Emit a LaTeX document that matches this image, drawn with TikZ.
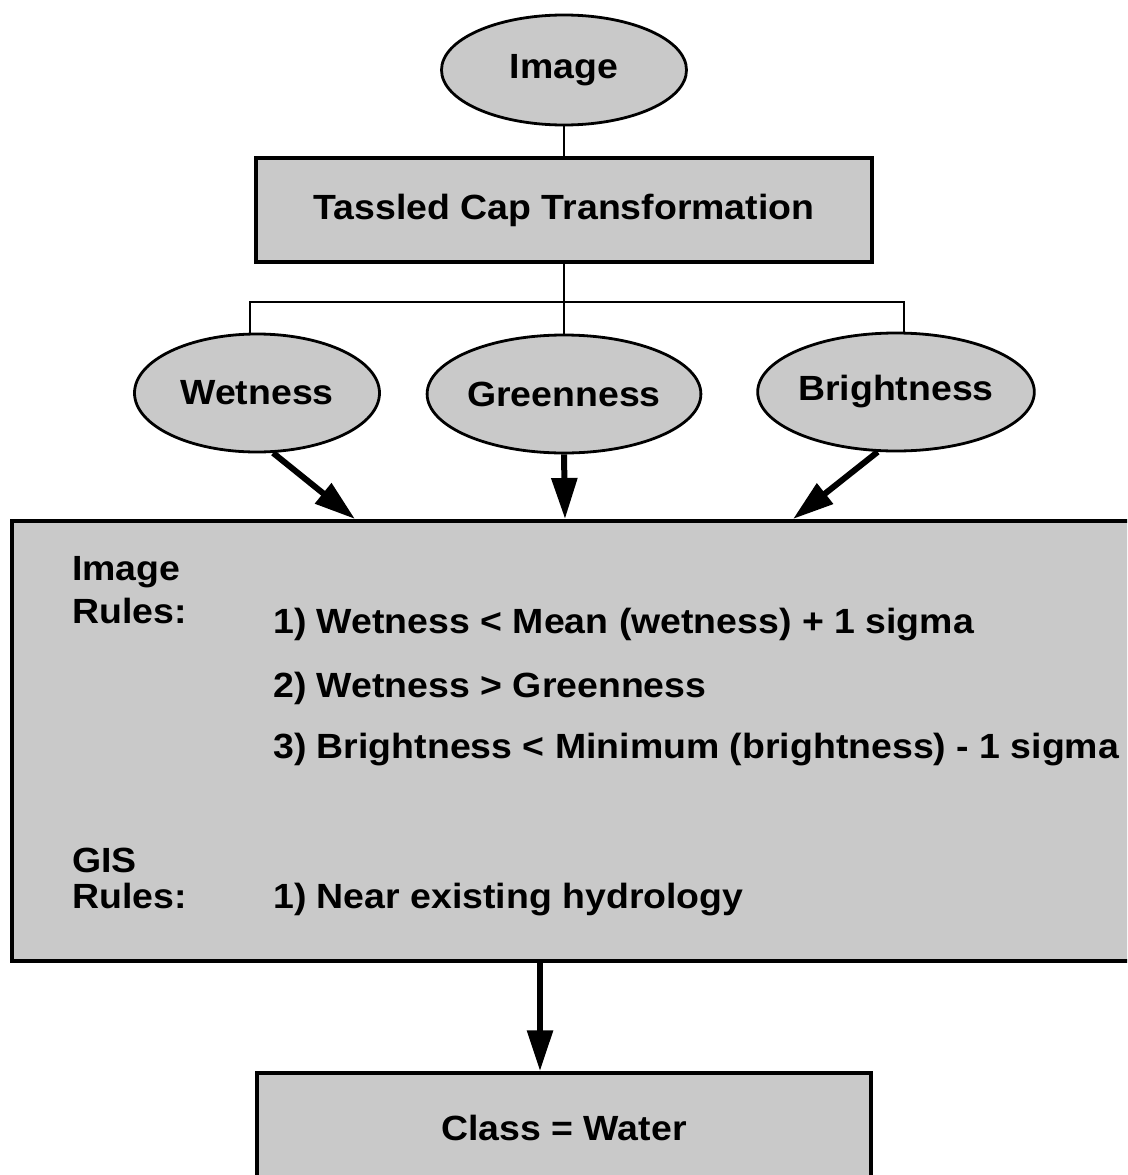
\documentclass[tikz,border=0pt]{standalone}
\usepackage{fontspec}
\setmainfont{Liberation Sans}[FakeStretch=1.07]
\usetikzlibrary{shapes.geometric,arrows.meta,calc}
\begin{document}
\begin{tikzpicture}[x=1pt,y=1pt,
  font=\fontsize{35}{40}\selectfont\bfseries,
  shade/.style={fill=black!21},
  oval/.style={ellipse,draw,shade,line width=2.8pt,inner sep=0pt,minimum width=245pt,minimum height=118pt},
  box/.style={rectangle,draw,shade,line width=3.5pt,inner sep=0pt},
  thin/.style={line width=2pt},
  bigarrow/.style={line width=6pt,-{Triangle[length=41pt,width=25pt]}},
  txt/.style={anchor=base west,inner sep=0pt}]
\clip (0,0) rectangle (1127,-1175);
\fill[white] (0,0) rectangle (1127,-1175);

\node[oval,minimum height=110pt] (img) at (564,-70) {Image};
\node[box,minimum width=616pt,minimum height=104pt] (tc) at (564,-210) {Tassled Cap Transformation};

\node[oval] (wet) at (257,-393) {Wetness};
\node[oval] (gr) at (564,-394) {Greenness};
\node[oval] (bri) at (896,-392) {Brightness};

\node[box,anchor=north west,minimum width=1135pt,minimum height=440pt] (rules) at (10,-519) {};

\node[box,minimum width=614pt,minimum height=110pt] (cls) at (564,-1128) {Class = Water};

% rules text
\node[txt] (t1) at (72,-580) {Image};
\node[txt] (t2) at (72,-623) {Rules:};
\node[txt] (t3) at (273,-633) {1) Wetness < Mean (wetness) + 1 sigma};
\node[txt] (t4) at (273,-697) {2) Wetness > Greenness};
\node[txt] (t5) at (273,-758) {3) Brightness < Minimum (brightness) - 1 sigma};
\node[txt] (t6) at (72,-872) {GIS};
\node[txt] (t7) at (72,-908) {Rules:};
\node[txt] (t8) at (273,-908) {1) Near existing hydrology};

% connectors
\draw[thin] (img.south) -- (tc.north);
\draw[thin] (tc.south) -- (gr.north);
\path (tc.south) ++(0,-38) coordinate (bj);
\draw[thin] ([xshift=-7pt]wet.north) |- (bj) -| ([xshift=8pt]bri.north);

\path (rules.north west) ++(345,0) coordinate (a1);
\path (rules.north west) ++(555,0) coordinate (a2);
\path (rules.north west) ++(783,0) coordinate (a3);
\draw[bigarrow] (wet.285) -- (a1);
\draw[bigarrow] (gr.south) -- (a2);
\draw[bigarrow] (bri.253) -- (a3);

\path (cls.north) ++(-24,0) coordinate (c1);
\draw[bigarrow] (rules.south -| c1) -- (c1);
\end{tikzpicture}
\end{document}
